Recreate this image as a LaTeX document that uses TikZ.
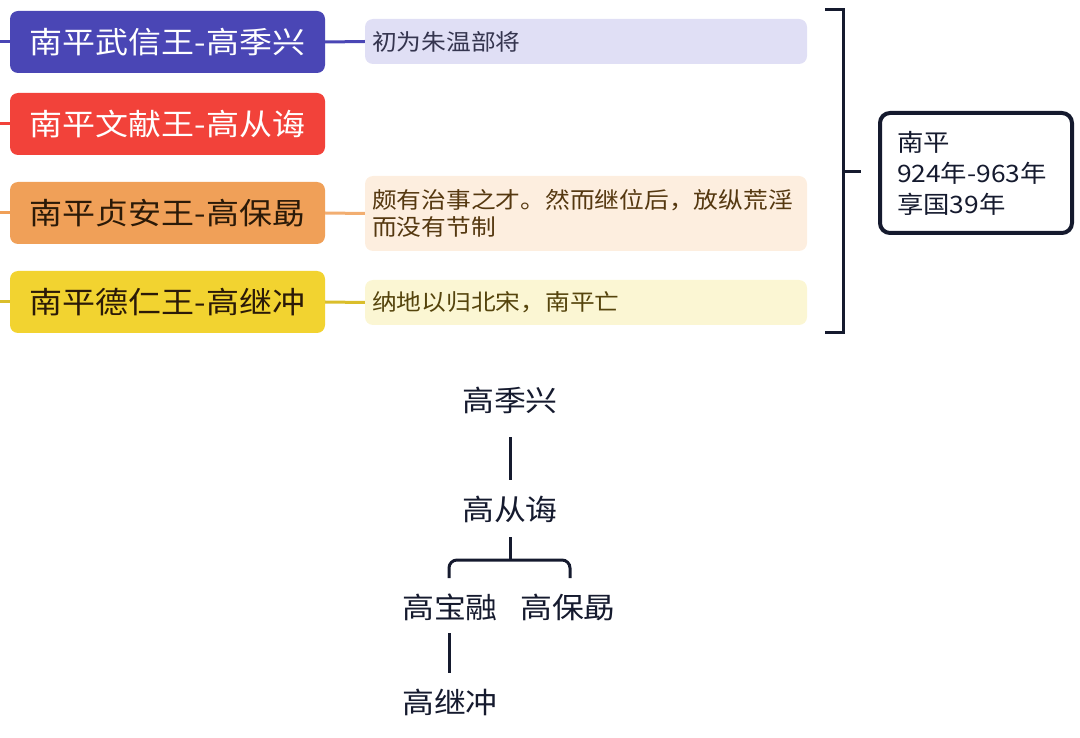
\documentclass[tikz,border=0pt]{standalone}
\usepackage{fontspec}
\setmainfont[FakeStretch=1.1]{Noto Sans CJK SC}
\definecolor{cA}{HTML}{4A46B5}
\definecolor{cB}{HTML}{F2423A}
\definecolor{cC}{HTML}{F0A058}
\definecolor{cD}{HTML}{F2D330}
\definecolor{nA}{HTML}{E0DFF5}
\definecolor{nC}{HTML}{FDEEDF}
\definecolor{nD}{HTML}{FBF6D3}
\definecolor{tA}{HTML}{35354F}
\definecolor{tC}{HTML}{553810}
\definecolor{tD}{HTML}{55440C}
\definecolor{tdark}{HTML}{2B1A08}
\definecolor{navy}{HTML}{151A2E}
\tikzset{
  mainbox/.style={rounded corners=8pt, minimum width=315pt, minimum height=62pt, inner sep=0pt, font=\fontsize{30}{34}\selectfont},
  notebox/.style={rounded corners=8pt, minimum width=442pt, inner xsep=7pt, inner ysep=0pt, text width=428pt, align=left, font=\fontsize{22.5}{27}\selectfont},
  conn/.style={line width=3pt},
  tree/.style={line width=3pt, draw=navy},
  treetext/.style={inner sep=0pt, text=navy, font=\fontsize{29}{33}\selectfont},
}
\begin{document}
\begin{tikzpicture}[x=1pt,y=-1pt]
\useasboundingbox (0,0) rectangle (1080,738);
% main boxes
\node[mainbox, fill=cA, text=white] (b1) at (167.5,42) {南平武信王-高季兴};
\node[mainbox, fill=cB, text=white] (b2) at (167.5,124) {南平文献王-高从诲};
\node[mainbox, fill=cC, text=tdark] (b3) at (167.5,213) {南平贞安王-高保勗};
\node[mainbox, fill=cD, text=tdark] (b4) at (167.5,302) {南平德仁王-高继冲};
% left stubs
\coordinate (l1) at (0,42);
\coordinate (l2) at (0,124);
\coordinate (l3) at (0,213);
\coordinate (l4) at (0,302);
\draw[conn, cA] (l1) -- (b1.west);
\draw[conn, cB] (l2) -- (b2.west);
\draw[conn, cC] (l3) -- (b3.west);
\draw[conn, cD!90!black] (l4) -- (b4.west);
% notes
\node[notebox, fill=nA, text=tA, minimum height=45pt] (n1) at (586,41.5) {初为朱温部将};
\node[notebox, fill=nC, text=tC, minimum height=75pt] (n3) at (586,213.5) {颇有治事之才。然而继位后，放纵荒淫\\而没有节制};
\node[notebox, fill=nD, text=tD, minimum height=45pt] (n4) at (586,302.5) {纳地以归北宋，南平亡};
\draw[conn, cA] (b1.east) -- (n1.west);
\draw[conn, cC!85] (b3.east) -- (n3.west);
\draw[conn, cD!90!black] (b4.east) -- (n4.west);
% bracket
\coordinate (bt) at (825,10);
\coordinate (bb) at (825,333);
\coordinate (bm) at (843,172);
\coordinate (bmt) at (861,172);
\draw[line width=3pt, navy] (bt) -- (843,10) -- (843,333) -- (bb);
\draw[line width=3pt, navy] (bm) -- (bmt);
% right box
\node[draw=navy, line width=4pt, rounded corners=10pt, minimum width=192pt, minimum height=120pt, inner xsep=17pt, text width=158pt, align=left, font=\fontsize{24}{31}\selectfont, text=navy] (sum) at (976,173) {南平\\924年-963年\\享国39年};
% tree
\node[treetext] (g1) at (510,400) {高季兴};
\node[treetext] (g2) at (510,509) {高从诲};
\node[treetext] (g3) at (450,607) {高宝融};
\node[treetext] (g4) at (568,607) {高保勗};
\node[treetext] (g5) at (450,702) {高继冲};
\coordinate (j1) at (510,560);
\draw[tree, shorten <=37pt, shorten >=29pt] (g1.center) -- (g2.center);
\draw[tree, shorten <=28pt] (g2.center) -- (j1);
\draw[tree, rounded corners=8pt] (449,578) -- (449,560) -- (570,560) -- (570,578);
\draw[tree, shorten <=26pt, shorten >=29pt] (449,607) -- (449,702);
\end{tikzpicture}
\end{document}
